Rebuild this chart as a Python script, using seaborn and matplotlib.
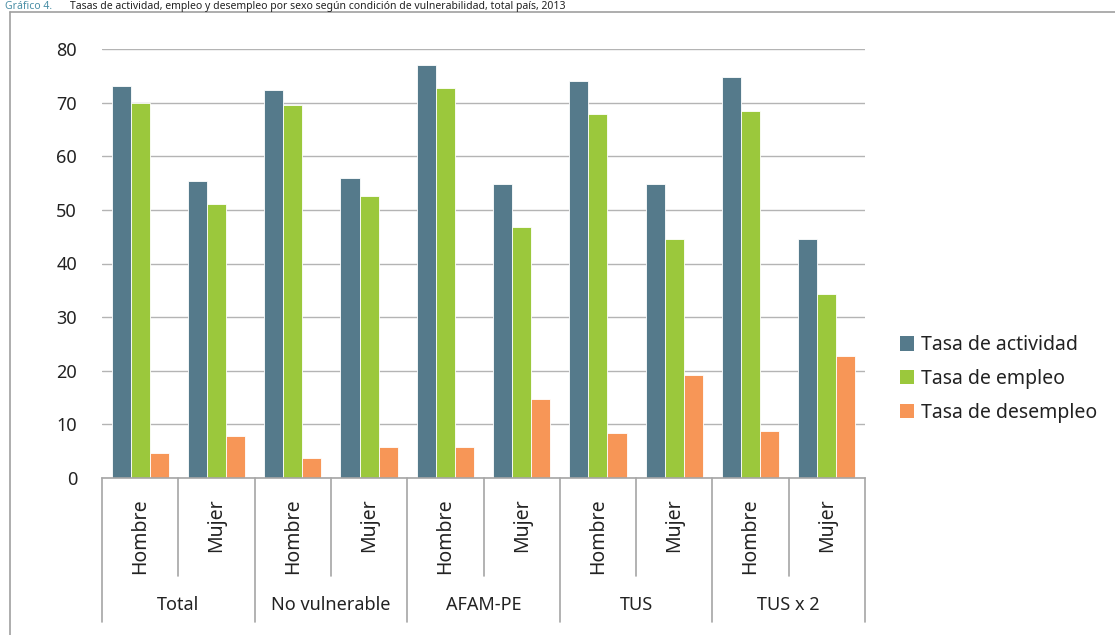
import matplotlib
matplotlib.use("Agg")
import matplotlib.pyplot as plt
from matplotlib.lines import Line2D
from matplotlib.patches import Patch
import pandas as pd
import seaborn as sns

# data
groups = ["Total", "No vulnerable", "AFAM-PE", "TUS", "TUS x 2"]
sexes = ["Hombre", "Mujer"]
series = ["Tasa de actividad", "Tasa de empleo", "Tasa de desempleo"]
actividad = [73.1, 55.4, 72.4, 55.9, 77.0, 54.8, 74.0, 54.8, 74.8, 44.6]
empleo = [69.9, 51.1, 69.6, 52.6, 72.7, 46.8, 67.9, 44.6, 68.4, 34.3]
desempleo = [4.7, 7.8, 3.7, 5.8, 5.8, 14.7, 8.4, 19.2, 8.7, 22.8]
colors = ["#557A8B", "#9BC83C", "#F79657"]
title_head = "Gráfico 4."
title_rest = "Tasas de actividad, empleo y desempleo por sexo según condición de vulnerabilidad, total país, 2013"

slots = [f"{g}|{s}" for g in groups for s in sexes]
rows = []
for name, vals in zip(series, [actividad, empleo, desempleo]):
    for slot, v in zip(slots, vals):
        rows.append({"slot": slot, "serie": name, "valor": v})
df = pd.DataFrame(rows)

sns.set_theme(style="white")
plt.rcParams["font.family"] = ["Noto Sans", "DejaVu Sans"]

W, H = 1115, 635
fig = plt.figure(figsize=(W / 100, H / 100), dpi=100)
ax = fig.add_axes([102 / W, 1 - 478 / H, (865 - 102) / W, (478 - 49) / H])

sns.barplot(data=df, x="slot", y="valor", hue="serie", order=slots,
            hue_order=series, palette=colors, width=0.75, edgecolor="white",
            linewidth=0.6, saturation=1, legend=False, ax=ax)

ax.set_xlim(-0.5, len(slots) - 0.5)
ax.set_ylim(0, 80)
ax.set_yticks(range(0, 81, 10))
ax.set_xticks([])
ax.set_xlabel("")
ax.set_ylabel("")
ax.yaxis.grid(True, color="#B4B4B4", linewidth=1)
ax.set_axisbelow(True)
for side in ["left", "top", "right"]:
    ax.spines[side].set_visible(False)
ax.spines["bottom"].set_color("#A6A6A6")
ax.spines["bottom"].set_linewidth(1.2)
ax.tick_params(axis="y", length=0, pad=18, labelsize=13, labelcolor="#222222")

# two-level category axis
tr = ax.get_xaxis_transform()
axh = 478 - 49
short_y = -(576 - 478) / axh
long_y = -(622 - 478) / axh
for i in range(len(slots) + 1):
    x = i - 0.5
    y1 = long_y if i % 2 == 0 else short_y
    ax.add_line(Line2D([x, x], [0, y1], transform=tr, color="#A6A6A6",
                       linewidth=1.2, clip_on=False))
for i, slot in enumerate(slots):
    ax.text(i, -(498 - 478) / axh, slot.split("|")[1], transform=tr,
            rotation=90, ha="center", va="top", fontsize=14, color="#222222")
for j, g in enumerate(groups):
    ax.text(2 * j + 0.5, -(605 - 478) / axh, g, transform=tr,
            ha="center", va="center", fontsize=13, color="#222222")

handles = [Patch(facecolor=c, edgecolor="none") for c in colors]
fig.legend(handles, series, loc="center left",
           bbox_to_anchor=(882 / W, 1 - 379 / H), frameon=False, fontsize=14,
           handlelength=0.75, handleheight=0.75, handletextpad=0.35,
           labelspacing=0.7, labelcolor="#222222")

# outer frame of the original figure
bc = "#A0A0A0"
fig.add_artist(Line2D([10 / W, 10 / W], [0, 1 - 12 / H], color=bc, linewidth=1.2))
fig.add_artist(Line2D([10 / W, 1], [1 - 12 / H, 1 - 12 / H], color=bc, linewidth=1.2))

# title line above the frame
fig.text(5 / W, 1 - 9 / H, title_head, va="baseline", fontsize=7.5, color="#4A8FA6")
fig.text(70 / W, 1 - 9 / H, title_rest, va="baseline", fontsize=7.5, color="#222222")

fig.savefig("out.png", dpi=100)
